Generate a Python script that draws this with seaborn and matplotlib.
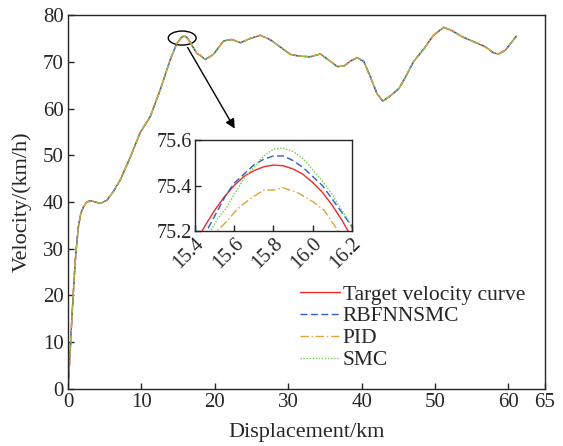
import numpy as np
import pandas as pd
import seaborn as sns
import matplotlib.pyplot as plt
from matplotlib.patches import Ellipse

# shared part of the trace (all four curves overlap at full scale)
disp_main = [0, 0.27, 0.5, 0.73, 0.95, 1.18, 1.4, 1.73, 2.1, 2.55, 3.1, 3.7, 4.37, 5.3,
             6.15, 7.1, 8.5, 9.8, 11.2, 12.55, 13.9, 14.8,
             16.6, 17.55, 18.0, 18.7, 19.8, 21.2, 22.3, 23.5, 24.8, 26.2, 27.6, 28.9,
             30.3, 31.65, 33.0, 34.4, 35.5, 36.7, 37.6, 38.5, 39.4, 40.3, 41.2, 42.1,
             42.9, 43.9, 45.1, 46.0, 47.1, 48.5, 49.8, 51.2, 52.3, 53.7, 55.3, 56.9,
             58.0, 58.7, 59.6, 61.1]
vel_main = [0, 7.7, 14.8, 21.2, 26.9, 31.2, 34.7, 37.6, 39.0, 40.0, 40.3, 40.0, 39.7, 40.4,
            42.2, 44.7, 49.7, 54.8, 58.3, 64.0, 70.4, 73.9,
            74.3, 71.8, 71.4, 70.5, 71.6, 74.5, 74.8, 74.1, 75.0, 75.7, 74.7, 73.2,
            71.6, 71.2, 71.1, 71.7, 70.4, 69.0, 69.1, 70.2, 70.9, 70.1, 66.8, 63.2,
            61.6, 62.7, 64.3, 66.8, 70.1, 72.8, 75.7, 77.4, 76.7, 75.4, 74.3, 73.2,
            71.9, 71.7, 72.5, 75.5]
n_pre = 22  # points before the zoomed peak window

# detail around the peak (inset window)
target_x = [15.40, 15.45, 15.50, 15.55, 15.60, 15.65, 15.70, 15.75, 15.80, 15.85, 15.90,
            15.95, 16.00, 16.05, 16.10, 16.15, 16.20]
target_v = [75.14, 75.22, 75.29, 75.35, 75.40, 75.44, 75.465, 75.482, 75.49, 75.487, 75.473,
            75.45, 75.414, 75.37, 75.313, 75.247, 75.17]
rbf_x = [15.42, 15.46, 15.51, 15.56, 15.60, 15.65, 15.70, 15.75, 15.80, 15.85, 15.90,
         15.95, 16.00, 16.05, 16.10, 16.15, 16.20]
rbf_v = [75.15, 75.20, 75.28, 75.36, 75.41, 75.45, 75.49, 75.515, 75.53, 75.53, 75.51,
         75.48, 75.44, 75.40, 75.34, 75.28, 75.22]
pid_x = [15.50, 15.56, 15.62, 15.68, 15.75, 15.80, 15.85, 15.92, 16.00, 16.06, 16.13, 16.18]
pid_v = [75.19, 75.24, 75.30, 75.34, 75.38, 75.38, 75.39, 75.37, 75.33, 75.29, 75.20, 75.13]
smc_x = [15.44, 15.48, 15.52, 15.56, 15.60, 15.65, 15.70, 15.75, 15.80, 15.85, 15.90, 15.95,
         16.00, 16.05, 16.10, 16.15, 16.21]
smc_v = [75.14, 75.20, 75.26, 75.30, 75.36, 75.43, 75.48, 75.53, 75.56, 75.565, 75.55, 75.52,
         75.47, 75.42, 75.36, 75.29, 75.21]

names = ["Target velocity curve", "RBFNNSMC", "PID", "SMC"]
zooms = [(target_x, target_v), (rbf_x, rbf_v), (pid_x, pid_v), (smc_x, smc_v)]

frames = []
for name, (zx, zv) in zip(names, zooms):
    d = list(disp_main[:n_pre]) + list(zx) + list(disp_main[n_pre:])
    v = list(vel_main[:n_pre]) + list(zv) + list(vel_main[n_pre:])
    frames.append(pd.DataFrame({"disp": d, "vel": v, "series": name}))
df = pd.concat(frames, ignore_index=True)

palette = {"Target velocity curve": "#f02828", "RBFNNSMC": "#2f5fbf",
           "PID": "#e3a33a", "SMC": "#72cc58"}
dashes = {"Target velocity curve": "", "RBFNNSMC": (5, 2.5),
          "PID": (6, 2, 1, 2), "SMC": (1, 1.2)}

sns.set_style("ticks")
plt.rcParams["font.family"] = ["Liberation Serif", "DejaVu Serif"]
plt.rcParams["xtick.direction"] = "in"
plt.rcParams["ytick.direction"] = "in"

fig = plt.figure(figsize=(5.63, 4.46), dpi=100)
ax = fig.add_axes([0.121, 0.128, 0.847, 0.838])
sns.lineplot(data=df, x="disp", y="vel", hue="series", style="series", palette=palette,
             dashes=dashes, estimator=None, sort=False, linewidth=1.0, ax=ax)
ax.set_xlim(0, 65)
ax.set_ylim(0, 80)
ax.set_xticks([0, 10, 20, 30, 40, 50, 60, 65])
ax.set_yticks(range(0, 81, 10))
ax.tick_params(labelsize=15, length=4, width=1, pad=3)
ax.set_xlabel("Displacement/km", fontsize=16, labelpad=8)
ax.set_ylabel("Velocity/(km/h)", fontsize=16, labelpad=8)
for s in ax.spines.values():
    s.set_linewidth(1.0)

handles, labels = ax.get_legend_handles_labels()
ax.legend(handles, labels, loc="upper left", bbox_to_anchor=(0.486, 0.279), frameon=False,
          fontsize=15.5, handlelength=1.85, handletextpad=0.15, labelspacing=0.08,
          borderaxespad=0, borderpad=0)

ax.add_patch(Ellipse((15.55, 75.1), 3.8, 3.0, fill=False, edgecolor="black", linewidth=1))
ax.annotate("", xy=(22.9, 55.2), xytext=(16.1, 73.6),
            arrowprops=dict(arrowstyle="-|>", color="black", lw=1, mutation_scale=14))

ins = fig.add_axes([0.346, 0.482, 0.279, 0.204])
sns.lineplot(data=df, x="disp", y="vel", hue="series", style="series", palette=palette,
             dashes=dashes, estimator=None, sort=False, linewidth=1.0, ax=ins, legend=False)
ins.set_xlim(15.4, 16.2)
ins.set_ylim(75.2, 75.6)
ins.set_xticks([15.4, 15.6, 15.8, 16.0, 16.2])
ins.set_xticklabels(["15.4", "15.6", "15.8", "16.0", "16.2"], rotation=45, ha="right",
                    rotation_mode="anchor")
ins.set_yticks([75.2, 75.4, 75.6])
ins.set_yticklabels(["75.2", "75.4", "75.6"])
ins.tick_params(labelsize=14.5, length=4, width=1, pad=2)
ins.set_xlabel("")
ins.set_ylabel("")
for s in ins.spines.values():
    s.set_linewidth(1.0)

fig.savefig("out.png", dpi=100)
